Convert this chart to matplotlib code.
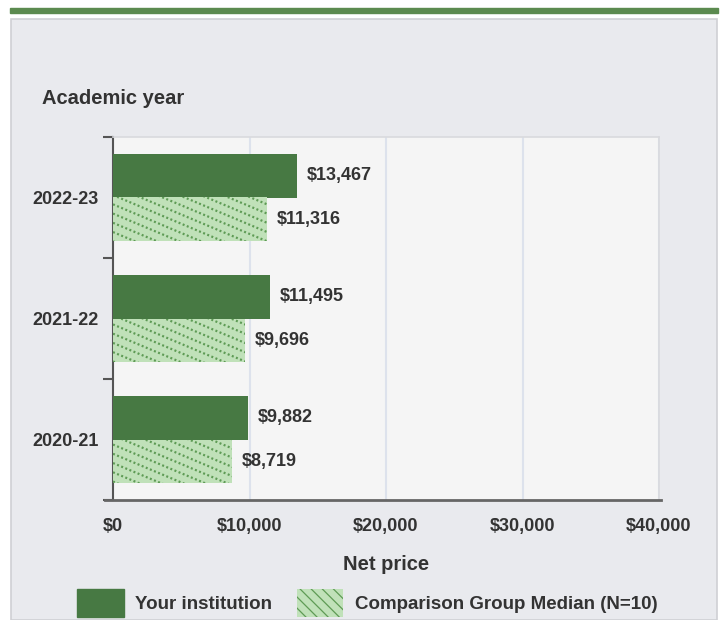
import matplotlib.pyplot as plt
from matplotlib.patches import Rectangle, Patch
from matplotlib.lines import Line2D
from matplotlib.collections import LineCollection

years = ["2020-21", "2021-22", "2022-23"]
your_inst = [9882, 11495, 13467]
comparison = [8719, 9696, 11316]
x_ticks = [0, 10000, 20000, 30000, 40000]
x_labels = ["$0", "$10,000", "$20,000", "$30,000", "$40,000"]

dark = "#477943"
light = "#c0e1b9"
hatch_col = "#5e9b55"
txt = "#333333"

plt.rcParams["font.family"] = ["Liberation Sans", "DejaVu Sans"]
plt.rcParams["hatch.linewidth"] = 0.9

W, H = 720, 620
fig = plt.figure(figsize=(W / 100, H / 100), dpi=100)
fig.patch.set_facecolor("white")

# green band + gray panel, drawn behind the axes
fig.patches.append(Rectangle((10 / W, 1 - 13 / H), 708 / W, 5 / H,
                             transform=fig.transFigure, color="#5b8a4f", zorder=-10))
fig.patches.append(Rectangle((11 / W, 0), 706 / W, 1 - 19 / H,
                             transform=fig.transFigure, facecolor="#e9eaee",
                             edgecolor="#cfd0d4", lw=1.2, zorder=-10))

AX_W, AX_H = 546, 363
ax = fig.add_axes([113 / W, 120 / H, AX_W / W, AX_H / H])
ax.set_facecolor("#f5f5f5")

pos = list(range(len(years)))
h = 0.36
b1 = ax.barh([p + h / 2 for p in pos], your_inst, height=h, color=dark, zorder=3)
b2 = ax.barh([p - h / 2 for p in pos], comparison, height=h, color=light,
             linewidth=0, zorder=3)

# dotted diagonal texture on the comparison bars
slope, step = 0.42, 22
segs = []
c = 0
while c < AX_H + slope * AX_W + step:
    segs.append([(0, c / AX_H), (1, (c - slope * AX_W) / AX_H)])
    c += slope * step
for bar in b2:
    lc = LineCollection(segs, transform=ax.transAxes, colors=hatch_col,
                        linewidths=1.6, linestyles=[(0, (0.9, 1.1))], zorder=4)
    ax.add_collection(lc, autolim=False)
    lc.set_clip_path(bar)

for bars, vals in ((b1, your_inst), (b2, comparison)):
    ax.bar_label(bars, labels=["${:,}".format(v) for v in vals], padding=7,
                 fontsize=13, fontweight="bold", color=txt)

ax.set_xlim(0, 40000)
ax.set_ylim(-0.5, 2.5)
ax.set_xticks(x_ticks)
ax.set_xticklabels(x_labels, fontsize=13, fontweight="bold", color=txt)
ax.set_yticks(pos)
ax.set_yticklabels(years, fontsize=13, fontweight="bold", color=txt)
ax.set_yticks([-0.5, 0.5, 1.5, 2.5], minor=True)
ax.tick_params(axis="x", length=0, pad=13)
ax.tick_params(axis="y", which="major", length=0, pad=10)
ax.tick_params(axis="y", which="minor", length=7, width=1.5, color="#555555")

ax.grid(axis="x", color="#dde2ec", linewidth=1.5, zorder=0)
for s in ("top", "right"):
    ax.spines[s].set_color("#d9dade")
    ax.spines[s].set_linewidth(1.2)
ax.spines["left"].set_color("#555555")
ax.spines["left"].set_linewidth(1.5)
ax.spines["bottom"].set_visible(False)
ax.add_line(Line2D([-0.015, 1.004], [0, 0], transform=ax.transAxes, color="#666666",
                   lw=2, clip_on=False, zorder=5))

ax.set_xlabel("Net price", fontsize=14.5, fontweight="bold", color=txt, labelpad=14)
fig.text(42 / W, 1 - 98 / H, "Academic year", fontsize=14.5, fontweight="bold",
         color=txt, va="center", ha="left")

handles = [Patch(facecolor=dark, edgecolor=dark),
           Patch(facecolor=light, edgecolor=hatch_col, linewidth=0, hatch="\\\\\\")]
fig.legend(handles, ["Your institution", "Comparison Group Median (N=10)"],
           loc="center", bbox_to_anchor=(0.51, 1 - 603 / H), ncol=2, frameon=False,
           prop={"size": 13.5, "weight": "bold"}, labelcolor=txt,
           handlelength=2.5, handleheight=1.9, handletextpad=0.6, columnspacing=1.3)

fig.savefig("out.png", dpi=100)
